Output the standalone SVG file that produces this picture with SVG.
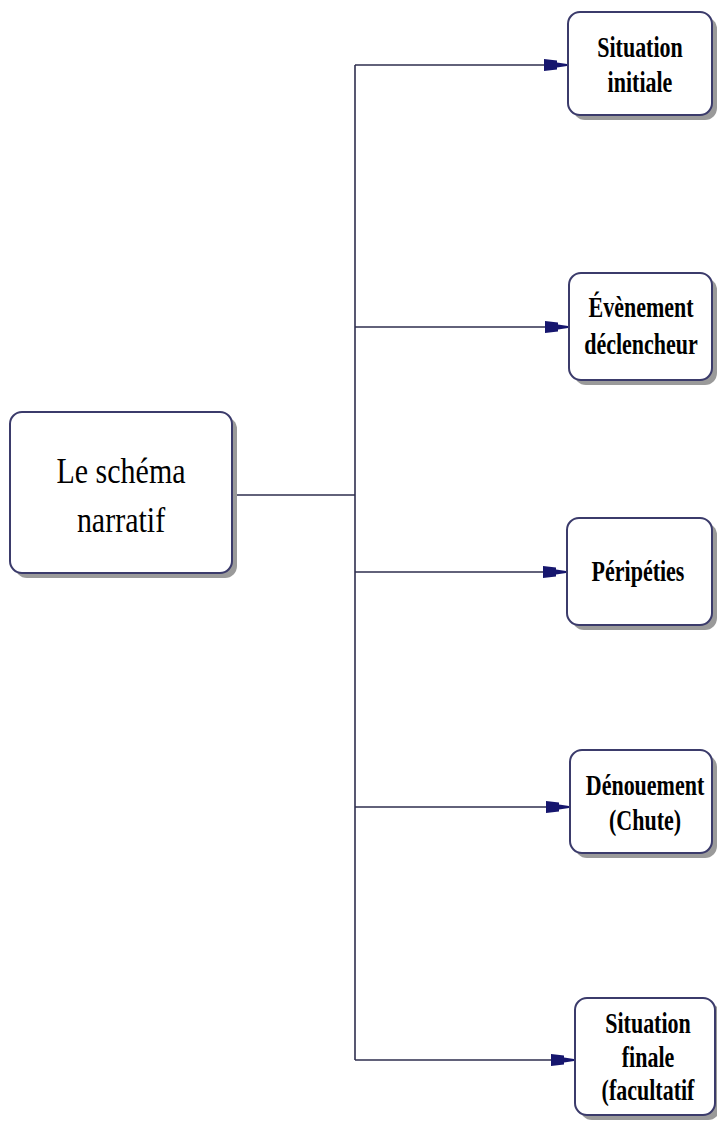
<svg xmlns="http://www.w3.org/2000/svg" width="717" height="1121" viewBox="0 0 717 1121">
<style>
.shadow{fill:#9a9a9a;}
.box{fill:#ffffff;stroke:#3b3b6b;stroke-width:2;}
.conn{fill:none;stroke:#2e2e4e;stroke-width:1.6;}
.main{font-family:"Liberation Serif","Times New Roman",serif;font-size:30px;fill:#000;text-anchor:middle;}
.lbl{font-family:"Liberation Serif","Times New Roman",serif;font-size:22px;font-weight:bold;fill:#000;text-anchor:middle;}
</style>
<defs>
<marker id="arr" markerWidth="24" markerHeight="14" refX="23" refY="7" orient="auto" markerUnits="userSpaceOnUse">
<polygon points="0,1 13,2.5 13,4.5 23,6 23,8 13,9.5 13,11.5 0,13" fill="#16166e"/>
</marker>
</defs>
<rect width="717" height="1121" fill="#ffffff"/>
<g id="connectors">
<path class="conn" d="M232,495 H355"/>
<path class="conn" d="M355,65 V1060"/>
<path class="conn" d="M355,65 H567" marker-end="url(#arr)"/>
<path class="conn" d="M355,327 H568" marker-end="url(#arr)"/>
<path class="conn" d="M355,572 H566" marker-end="url(#arr)"/>
<path class="conn" d="M355,807 H569" marker-end="url(#arr)"/>
<path class="conn" d="M355,1060 H574" marker-end="url(#arr)"/>
</g>
<g id="main">
<rect class="shadow" x="15" y="417" width="222" height="161" rx="12"/>
<rect class="box" x="10" y="412" width="222" height="161" rx="12"/>
<text class="main" transform="translate(121,483) scale(1,1.2)">Le schéma</text>
<text class="main" transform="translate(121,532) scale(1,1.2)">narratif</text>
</g>
<g id="situation-initiale">
<rect class="shadow" x="573" y="17" width="144" height="103" rx="12"/>
<rect class="box" x="568" y="12" width="144" height="103" rx="12"/>
<text class="lbl" transform="translate(640,57) scale(1,1.3)">Situation</text>
<text class="lbl" transform="translate(640,92) scale(1,1.3)">initiale</text>
</g>
<g id="evenement-declencheur">
<rect class="shadow" x="574" y="278" width="143" height="107" rx="12"/>
<rect class="box" x="569" y="273" width="143" height="107" rx="12"/>
<text class="lbl" transform="translate(641,317) scale(1,1.3)">Évènement</text>
<text class="lbl" transform="translate(641,354) scale(1,1.3)">déclencheur</text>
</g>
<g id="peripeties">
<rect class="shadow" x="572" y="523" width="145" height="107" rx="12"/>
<rect class="box" x="567" y="518" width="145" height="107" rx="12"/>
<text class="lbl" transform="translate(638,581) scale(1,1.3)">Péripéties</text>
</g>
<g id="denouement">
<rect class="shadow" x="575" y="755" width="142" height="103" rx="12"/>
<rect class="box" x="570" y="750" width="142" height="103" rx="12"/>
<text class="lbl" transform="translate(645,795) scale(1,1.3)">Dénouement</text>
<text class="lbl" transform="translate(645,830) scale(1,1.3)">(Chute)</text>
</g>
<g id="situation-finale">
<rect class="shadow" x="580" y="1003" width="140" height="117" rx="12"/>
<rect class="box" x="575" y="998" width="140" height="117" rx="12"/>
<text class="lbl" transform="translate(648,1033) scale(1,1.3)">Situation</text>
<text class="lbl" transform="translate(648,1067) scale(1,1.3)">finale</text>
<text class="lbl" transform="translate(648,1100) scale(1,1.3)">(facultatif</text>
</g>
</svg>
